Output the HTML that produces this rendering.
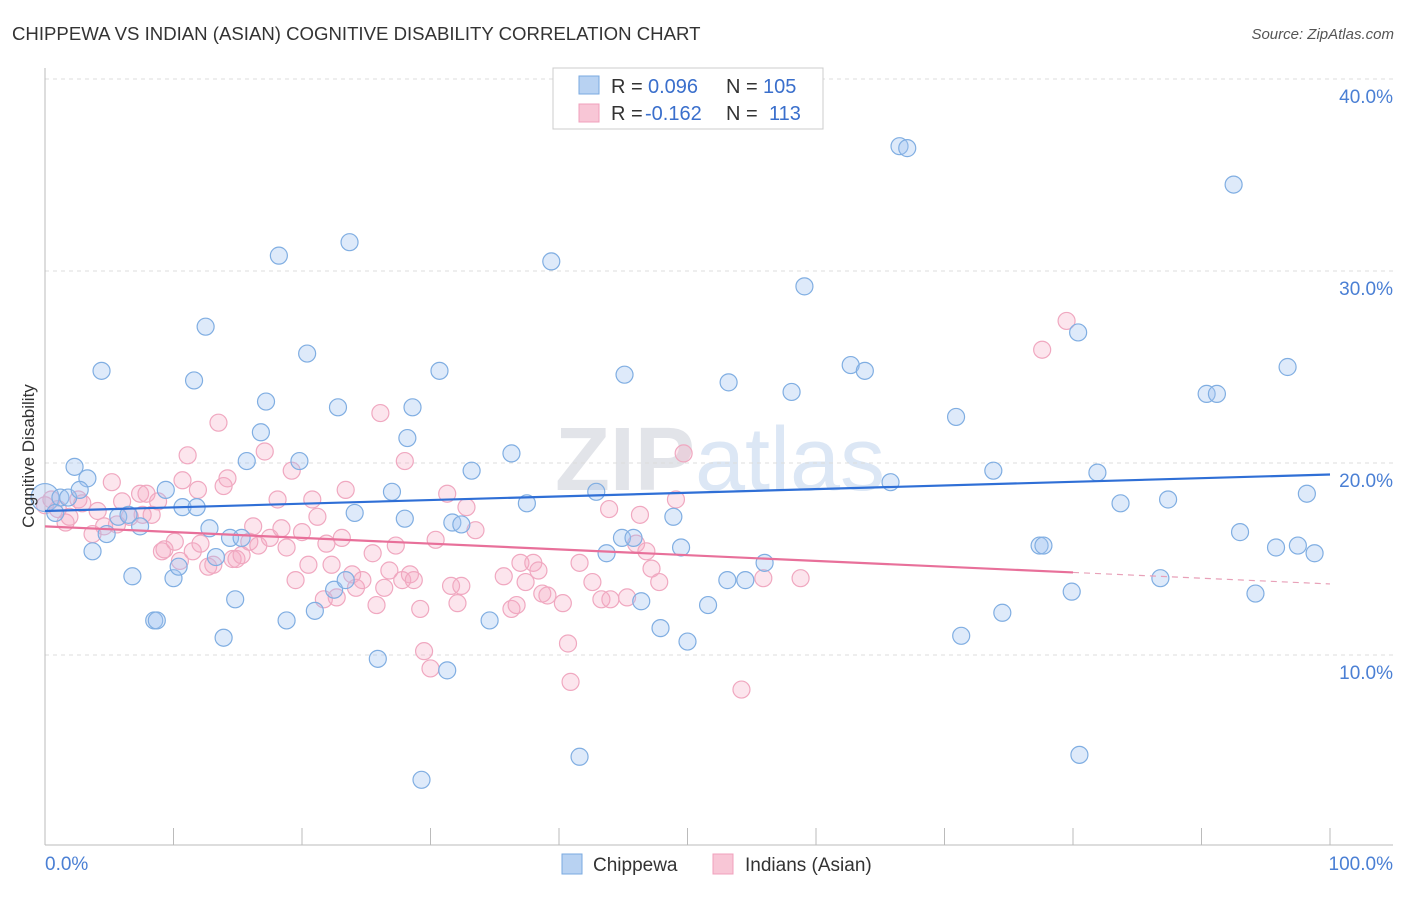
<!DOCTYPE html>
<html><head><meta charset="utf-8">
<style>
body{margin:0;background:#fff;font-family:"Liberation Sans",sans-serif;}
svg text{font-family:"Liberation Sans",sans-serif;}
</style></head>
<body>
<svg id="chart" width="1406" height="892" xmlns="http://www.w3.org/2000/svg">
<text x="12" y="40" font-size="18.6" fill="#333">CHIPPEWA VS INDIAN (ASIAN) COGNITIVE DISABILITY CORRELATION CHART</text>
<text x="1394" y="39" font-size="15" fill="#555" font-style="italic" text-anchor="end">Source: ZipAtlas.com</text>
<text x="720" y="490" font-size="90" fill="#e5e8ee" text-anchor="middle" font-family="Liberation Serif"><tspan font-weight="bold" fill="#e2e4e9">ZIP</tspan><tspan fill="#dce7f5">atlas</tspan></text>
<g id="grid"></g>
<g id="axes"></g>
<g id="pinkPts"></g>
<g id="bluePts"></g>
<g id="trends"></g>
<text transform="translate(34,456) rotate(-90)" font-size="17" fill="#333" text-anchor="middle">Cognitive Disability</text>
<g>
<rect x="553" y="68" width="270" height="61" fill="#fff" stroke="#ccc"/>
<rect x="579" y="76" width="20" height="18" fill="#b8d2f2" stroke="#7aaae0"/>
<rect x="579" y="104" width="20" height="18" fill="#f8c6d6" stroke="#f0a0bc"/>
<text x="611" y="93" font-size="20" fill="#333">R =</text>
<text x="648" y="93" font-size="20" fill="#3a6fcc">0.096</text>
<text x="726" y="93" font-size="20" fill="#333">N =</text>
<text x="763" y="93" font-size="20" fill="#3a6fcc">105</text>
<text x="611" y="120" font-size="20" fill="#333">R =</text>
<text x="645" y="120" font-size="20" fill="#3a6fcc">-0.162</text>
<text x="726" y="120" font-size="20" fill="#333">N =</text>
<text x="769" y="120" font-size="20" fill="#3a6fcc">113</text>
</g>
<g>
<rect x="562" y="854" width="20" height="20" fill="#b8d2f2" stroke="#7aaae0"/>
<text x="593" y="871" font-size="19" fill="#333">Chippewa</text>
<rect x="713" y="854" width="20" height="20" fill="#f8c6d6" stroke="#f0a0bc"/>
<text x="745" y="871" font-size="19" fill="#333">Indians (Asian)</text>
</g>
</svg>
<script>
const yTicks=[10,20,30,40];
const yTickLabels=["10.0%","20.0%","30.0%","40.0%"];
const xTickLabels=["0.0%","100.0%"];
const blueX=[0,1.2,0.8,1.8,2.3,3.3,2.7,3.7,4.4,4.8,5.7,6.5,6.8,7.4,8.5,8.7,9.4,10.0,10.4,10.7,11.6,11.8,12.5,12.8,13.3,13.9,14.4,14.8,15.3,15.7,16.8,17.2,18.2,18.8,19.8,20.4,21.0,22.5,22.8,23.4,23.7,24.1,25.9,27.0,28.0,28.2,28.6,29.3,30.7,31.3,31.7,32.4,33.2,34.6,36.3,37.5,39.4,41.6,42.9,43.7,44.9,45.1,45.8,46.4,47.9,48.9,49.5,50.0,51.6,53.1,53.2,54.5,56.0,58.1,59.1,62.7,63.8,65.8,66.5,67.1,70.9,71.3,73.8,74.5,77.4,77.7,79.9,80.4,80.5,81.9,83.7,86.8,87.4,90.4,91.2,92.5,93.0,94.2,95.8,96.7,97.5,98.2,98.8];
const blueY=[18.2,18.2,17.4,18.2,19.8,19.2,18.6,15.4,24.8,16.3,17.2,17.3,14.1,16.7,11.8,11.8,18.6,14.0,14.6,17.7,24.3,17.7,27.1,16.6,15.1,10.9,16.1,12.9,16.1,20.1,21.6,23.2,30.8,11.8,20.1,25.7,12.3,13.4,22.9,13.9,31.5,17.4,9.8,18.5,17.1,21.3,22.9,3.5,24.8,9.2,16.9,16.8,19.6,11.8,20.5,17.9,30.5,4.7,18.5,15.3,16.1,24.6,16.1,12.8,11.4,17.2,15.6,10.7,12.6,13.9,24.2,13.9,14.8,23.7,29.2,25.1,24.8,19.0,36.5,36.4,22.4,11.0,19.6,12.2,15.7,15.7,13.3,26.8,4.8,19.5,17.9,14.0,18.1,23.6,23.6,34.5,16.4,13.2,15.6,25.0,15.7,18.4,15.3];
const pinkX=[0,0.5,1.0,1.6,1.9,2.6,2.9,3.7,4.1,4.6,5.2,5.6,6.0,6.6,7.4,7.6,7.9,8.3,8.8,9.1,9.3,10.1,10.5,10.7,11.1,11.5,11.9,12.1,12.7,13.1,13.5,13.9,14.2,14.6,14.9,15.3,15.9,16.2,16.6,17.1,17.5,18.1,18.4,18.8,19.2,19.5,20.0,20.5,20.8,21.2,21.7,21.9,22.3,22.7,23.1,23.4,23.9,24.2,24.7,25.5,25.8,26.1,26.4,26.8,27.3,27.8,28.0,28.4,28.7,29.2,29.5,30.0,30.4,31.3,31.6,32.1,32.4,32.8,33.5,35.7,36.3,36.7,37.0,37.4,38.0,38.4,38.7,39.1,40.3,40.7,40.9,41.6,42.6,43.3,44.0,43.9,45.3,46.0,46.3,46.8,47.2,47.8,49.1,49.7,54.2,55.9,58.8,77.6,79.5];
const pinkY=[17.8,18.1,17.6,16.9,17.2,18.1,17.9,16.3,17.5,16.7,19.0,16.8,18.0,17.2,18.4,17.3,18.4,17.3,18.0,15.4,15.5,15.9,14.9,19.1,20.4,15.4,18.6,15.8,14.6,14.7,22.1,18.8,19.2,15.0,15.0,15.2,15.9,16.7,15.7,20.6,16.1,18.1,16.6,15.6,19.6,13.9,16.4,14.7,18.1,17.2,12.9,15.8,14.7,13.0,16.1,18.6,14.2,13.5,13.9,15.3,12.6,22.6,13.5,14.4,15.7,13.9,20.1,14.2,13.9,12.4,10.2,9.3,16.0,18.4,13.6,12.7,13.6,17.7,16.5,14.1,12.4,12.6,14.8,13.8,14.8,14.4,13.2,13.1,12.7,10.6,8.6,14.8,13.8,12.9,12.9,17.6,13.0,15.8,17.3,15.4,14.5,13.8,18.1,20.5,8.2,14.0,14.0,25.9,27.4];
const blueTrend=[17.5,19.4];
const pinkTrend=[16.7,13.7];
const pinkSolidEnd=80;

const NS="http://www.w3.org/2000/svg";
const X=v=>45+v/100*1285;
const Y=v=>847-v*19.2;
function mk(tag,attrs,parent){const e=document.createElementNS(NS,tag);for(const k in attrs)e.setAttribute(k,attrs[k]);parent.appendChild(e);return e;}
const grid=document.getElementById('grid'),axes=document.getElementById('axes');
yTicks.forEach((t,i)=>{
  const l=mk('line',{x1:45,x2:1393,y1:Y(t),y2:Y(t),stroke:'#dcdcdc','stroke-dasharray':'4,4'},grid);
  
  
  const tx=mk('text',{x:1393,y:Y(t)+24,'font-size':19,fill:'#4a7fd4','text-anchor':'end'},axes);
  tx.textContent=yTickLabels[i];
  
  
});
const al=mk('line',{x1:45,x2:45,y1:68,y2:845,stroke:'#bbb'},axes);


const bl=mk('line',{x1:45,x2:1393,y1:845,y2:845,stroke:'#bbb'},axes);


for(let i=0;i<=10;i++){
  const tk=mk('line',{x1:X(i*10),x2:X(i*10),y1:828,y2:845,stroke:'#bbb'},axes);
  
  
}
const x0=mk('text',{x:45,y:870,'font-size':19,fill:'#4a7fd4'},axes);x0.textContent=xTickLabels[0];


const x1=mk('text',{x:1393,y:870,'font-size':19,fill:'#4a7fd4','text-anchor':'end'},axes);x1.textContent=xTickLabels[1];



const pg=document.getElementById('pinkPts');
pinkX.forEach((v,i)=>{
  const c=mk('circle',{cx:X(v),cy:Y(pinkY[i]),r:8.5,fill:'rgba(245,170,195,0.3)',stroke:'#f0a8c0','stroke-width':1.2},pg);
  
  
});
const bg=document.getElementById('bluePts');
blueX.forEach((v,i)=>{
  const c=mk('circle',{cx:X(v),cy:Y(blueY[i]),r:i===0?14:8.5,fill:'rgba(160,196,240,0.35)',stroke:'#80aee2','stroke-width':1.2},bg);
  
  
});
const tg=document.getElementById('trends');
const bt=mk('line',{x1:X(0),y1:Y(blueTrend[0]),x2:X(100),y2:Y(blueTrend[1]),stroke:'#2f6fd6','stroke-width':2.2},tg);


const pm=pinkTrend[0]+(pinkTrend[1]-pinkTrend[0])*pinkSolidEnd/100;
const pt=mk('line',{x1:X(0),y1:Y(pinkTrend[0]),x2:X(pinkSolidEnd),y2:Y(pm),stroke:'#e8709a','stroke-width':2.2},tg);


const pd=mk('line',{x1:X(pinkSolidEnd),y1:Y(pm),x2:X(100),y2:Y(pinkTrend[1]),stroke:'#e8a0b8','stroke-width':1.2,'stroke-dasharray':'6,5'},tg);


</script>
</body></html>
